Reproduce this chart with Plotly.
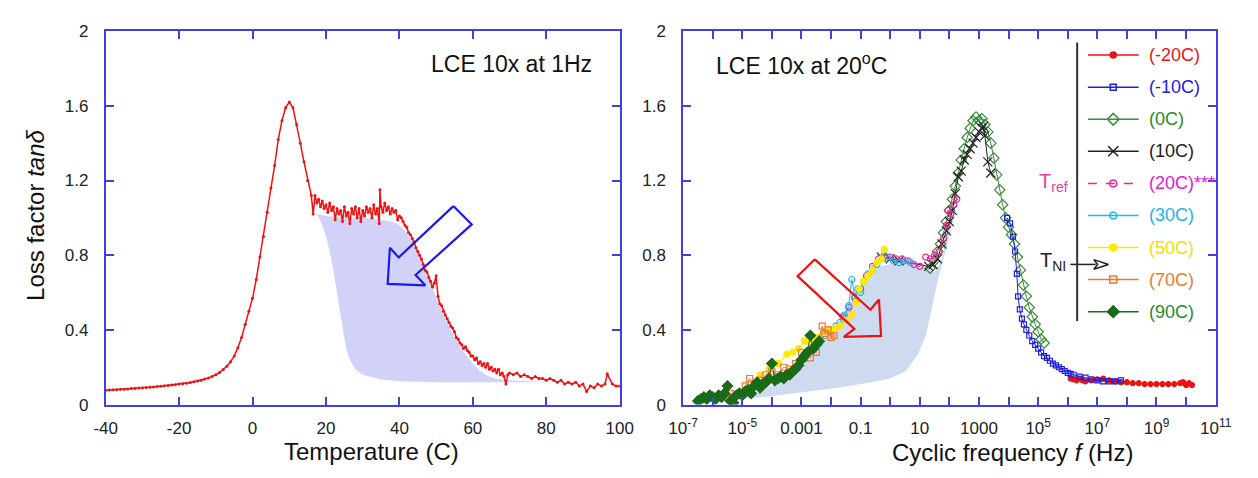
import plotly.graph_objects as go

W, H = 1258, 478

# ---------------- Left panel data: loss factor vs temperature (1 Hz) ----------------
temp_C = [-40, -39, -38, -37, -36, -35, -34, -33, -32, -31, -30, -29, -28, -27, -26, -25, -24, -23, -22, -21,
          -20, -19, -18, -17, -16, -15, -14, -13, -12, -11, -10, -9, -8, -7, -6, -5, -4, -3, -2, -1,
          0, 1, 2, 3, 4, 5, 6, 7, 8, 9, 10, 11, 12, 13, 14, 15, 16, 16.5,
          17, 17.5, 18, 18.5, 19, 19.5, 20, 20.5, 21, 21.5, 22, 22.5, 23, 23.5, 24, 24.5, 25, 25.5, 26, 26.5,
          27, 27.5, 28, 28.5, 29, 29.5, 30, 30.5, 31, 31.5, 32, 32.5, 33, 33.5, 34, 34.5, 34.7, 35, 35.5, 36, 36.5,
          37, 37.5, 38, 38.5, 39, 39.5, 40, 40.5, 41, 41.5, 42, 42.5, 43, 43.5, 44, 44.5, 45, 45.5, 46, 46.5,
          47, 47.5, 48, 48.5, 49, 49.5, 50, 50.5, 51, 51.5, 52, 52.5, 53, 53.5, 54, 54.5, 55, 55.5, 56, 56.5,
          57, 57.5, 58, 58.5, 59, 59.5, 60, 60.5, 61, 61.5, 62, 62.5, 63, 63.5, 64, 64.5, 65, 65.5, 66, 66.5,
          67, 67.5, 68, 68.5, 69, 69.5, 70, 71, 72, 73, 74, 75, 76, 77, 78, 79,
          80, 81, 82, 83, 84, 85, 86, 87, 88, 89, 90, 91, 92, 93, 94, 95, 96, 96.6, 98, 99, 100]
tan_delta_T = [0.077, 0.078, 0.080, 0.079, 0.082, 0.083, 0.084, 0.086, 0.087, 0.089, 0.090, 0.092, 0.093, 0.095, 0.097, 0.099, 0.101, 0.103, 0.105, 0.107,
               0.110, 0.112, 0.115, 0.118, 0.122, 0.126, 0.131, 0.137, 0.143, 0.150, 0.160, 0.172, 0.188, 0.205, 0.230, 0.260, 0.305, 0.360, 0.430, 0.500,
               0.570, 0.670, 0.790, 0.900, 1.030, 1.160, 1.280, 1.420, 1.520, 1.590, 1.620, 1.590, 1.500, 1.400, 1.300, 1.200, 1.120, 1.020,
               1.12, 1.08, 1.10, 1.06, 1.09, 1.05, 1.07, 1.03, 1.08, 1.04, 1.06, 0.99, 1.05, 1.02, 1.04, 0.98, 1.06, 1.01, 1.03, 0.97,
               1.05, 1.02, 1.06, 1.00, 1.05, 0.98, 1.04, 1.01, 1.06, 1.03, 1.05, 1.00, 1.07, 1.02, 1.05, 0.97, 1.15, 1.06, 1.03, 1.08, 1.04,
               1.06, 1.02, 1.05, 1.03, 1.04, 0.99, 1.01, 1.00, 0.98, 0.96, 0.95, 0.92, 0.91, 0.89, 0.87, 0.84, 0.82, 0.80, 0.78, 0.75,
               0.72, 0.71, 0.68, 0.66, 0.63, 0.65, 0.69, 0.58, 0.54, 0.53, 0.50, 0.48, 0.46, 0.44, 0.42, 0.41, 0.39, 0.36, 0.35, 0.33,
               0.32, 0.30, 0.31, 0.29, 0.28, 0.26, 0.26, 0.24, 0.25, 0.22, 0.23, 0.21, 0.22, 0.20, 0.22, 0.19, 0.20, 0.18, 0.19, 0.17,
               0.19, 0.16, 0.17, 0.15, 0.11, 0.16, 0.17, 0.16, 0.17, 0.15, 0.16, 0.15, 0.14, 0.15, 0.14, 0.14,
               0.130, 0.140, 0.130, 0.120, 0.130, 0.110, 0.120, 0.110, 0.120, 0.100, 0.110, 0.070, 0.100, 0.090, 0.110, 0.100, 0.110, 0.165, 0.110, 0.100, 0.100]

# shaded region (left), upper boundary then lower boundary back
shadeL_T = [17.5, 20, 25, 30, 35, 38, 40, 42, 44, 46, 48, 50, 52, 54, 56, 58, 60, 62, 64, 66, 70, 75, 80,
            70, 60, 50, 40, 35, 30, 28, 26.5, 25.5, 24.8, 24, 23, 22, 21, 20, 19, 17.5]
shadeL_y = [1.02, 1.01, 1.00, 1.00, 0.99, 0.98, 0.96, 0.92, 0.85, 0.77, 0.67, 0.57, 0.48, 0.40, 0.33, 0.27, 0.22, 0.18, 0.155, 0.14, 0.13, 0.125, 0.12,
            0.12, 0.12, 0.12, 0.125, 0.135, 0.16, 0.19, 0.24, 0.30, 0.38, 0.48, 0.60, 0.72, 0.82, 0.90, 0.96, 1.02]

# hollow arrow (left)
arrowL_T = [54.7, 59.7, 44.4, 47.05, 36.8, 37.4, 39.8, 54.7]
arrowL_y = [1.063, 0.965, 0.694, 0.639, 0.646, 0.84, 0.788, 1.063]

# ---------------- Right panel data: master curve vs log10 frequency ----------------
lf_m20 = [6.1, 6.2, 6.3, 6.4, 6.5, 6.6, 6.8, 7.0, 7.2, 7.4, 7.6, 7.8, 8.0, 8.2, 8.4, 8.6, 8.8, 9.0, 9.2, 9.4, 9.6, 9.8, 9.9, 10.0, 10.1, 10.2]
y_m20 = [0.14, 0.135, 0.13, 0.14, 0.13, 0.125, 0.13, 0.135, 0.14, 0.13, 0.125, 0.12, 0.12, 0.115, 0.115, 0.11, 0.11, 0.11, 0.11, 0.11, 0.11, 0.115, 0.12, 0.105, 0.115, 0.105]

lf_m10 = [3.95, 4.05, 4.15, 4.22, 4.28, 4.32, 4.38, 4.45, 4.52, 4.6, 4.7, 4.8, 4.9, 5.0, 5.1, 5.2, 5.3, 5.4, 5.5, 5.6, 5.7, 5.8, 5.9, 6.0, 6.1, 6.2, 6.4, 6.6, 6.8, 7.0, 7.2, 7.4, 7.6, 7.8]
y_m10 = [1.00, 0.97, 0.90, 0.82, 0.70, 0.58, 0.51, 0.46, 0.43, 0.40, 0.37, 0.34, 0.32, 0.30, 0.28, 0.26, 0.25, 0.235, 0.22, 0.21, 0.20, 0.19, 0.18, 0.17, 0.165, 0.16, 0.15, 0.145, 0.135, 0.13, 0.125, 0.125, 0.125, 0.13]

lf_0 = [1.35, 1.5, 1.6, 1.7, 1.8, 1.9, 2.0, 2.1, 2.2, 2.3, 2.4, 2.5, 2.6, 2.7, 2.8, 2.9, 3.0, 3.1, 3.2, 3.3, 3.4, 3.5, 3.6, 3.7, 3.8, 3.9,
        4.0, 4.1, 4.2, 4.3, 4.4, 4.5, 4.6, 4.7, 4.8, 4.9, 5.0, 5.1, 5.2]
y_0 = [0.73, 0.77, 0.82, 0.86, 0.92, 0.98, 1.04, 1.10, 1.17, 1.24, 1.31, 1.37, 1.43, 1.48, 1.52, 1.54, 1.52, 1.53, 1.50, 1.46, 1.40, 1.32, 1.23, 1.15, 1.07, 1.00,
       0.95, 0.91, 0.86, 0.79, 0.72, 0.64, 0.58, 0.52, 0.47, 0.43, 0.39, 0.35, 0.33]

lf_10 = [-0.3, 0.0, 0.3, 1.3, 1.45, 1.6, 1.75, 1.9, 2.0, 2.1, 2.2, 2.3, 2.4, 2.5, 2.6, 2.7, 2.8, 2.9, 3.0, 3.1, 3.15, 3.2, 3.3, 3.4]
y_10 = [0.79, 0.78, 0.77, 0.74, 0.75, 0.78, 0.86, 0.93, 0.98, 1.04, 1.13, 1.22, 1.25, 1.31, 1.34, 1.37, 1.40, 1.43, 1.46, 1.48, 1.49, 1.44, 1.30, 1.24]

lf_20 = [-1.6, -1.4, -1.2, -1.0, -0.8, -0.6, -0.4, -0.2, 0.0, 0.2, 0.4, 0.6, 0.8, 1.0, 1.2, 1.35, 1.5, 1.65, 1.8, 1.9, 1.95, 2.05, 2.15, 2.25]
y_20 = [0.47, 0.52, 0.57, 0.62, 0.69, 0.74, 0.78, 0.80, 0.79, 0.78, 0.78, 0.77, 0.75, 0.74, 0.79, 0.78, 0.80, 0.82, 0.89, 0.96, 1.04, 1.02, 1.07, 1.10]

lf_30 = [-2.4, -2.2, -2.0, -1.85, -1.7, -1.55, -1.4, -1.3, -1.2, -1.1, -1.0, -0.9, -0.75, -0.6, -0.45, -0.3, -0.1, 0.1, 0.3, 0.5, 0.7]
y_30 = [0.33, 0.37, 0.40, 0.42, 0.44, 0.48, 0.53, 0.67, 0.58, 0.62, 0.60, 0.66, 0.70, 0.72, 0.75, 0.78, 0.79, 0.77, 0.76, 0.77, 0.76]

lf_50 = [-4.4, -4.1, -3.8, -3.5, -3.3, -3.1, -2.9, -2.7, -2.5, -2.3, -2.1, -1.9, -1.7, -1.5, -1.3, -1.15, -1.05, -0.9, -0.75, -0.6, -0.45, -0.3, -0.2]
y_50 = [0.16, 0.19, 0.22, 0.27, 0.28, 0.30, 0.34, 0.33, 0.36, 0.38, 0.40, 0.41, 0.42, 0.45, 0.48, 0.55, 0.62, 0.66, 0.69, 0.72, 0.76, 0.78, 0.83]

lf_70 = [-5.5, -5.4, -5.2, -4.9, -4.75, -4.6, -4.4, -4.2, -4.0, -3.8, -3.6, -3.4, -3.2, -3.0, -2.9, -2.7, -2.6, -2.5, -2.3, -2.2, -2.1, -2.0, -1.9]
y_70 = [0.04, 0.06, 0.05, 0.10, 0.14, 0.11, 0.13, 0.16, 0.18, 0.16, 0.20, 0.19, 0.22, 0.28, 0.25, 0.25, 0.30, 0.28, 0.42, 0.38, 0.40, 0.36, 0.37]

lf_90 = [-6.5, -6.4, -6.3, -6.2, -6.1, -6.0, -5.9, -5.8, -5.7, -5.6, -5.5, -5.4, -5.3, -5.2, -5.1, -5.0, -4.9, -4.8, -4.7, -4.6, -4.5,
         -4.4, -4.3, -4.2, -4.1, -4.0, -3.9, -3.8, -3.7, -3.6, -3.5, -3.4, -3.3, -3.2, -3.1, -3.0, -2.9, -2.8, -2.7, -2.6, -2.5, -2.4]
y_90 = [0.02, 0.03, 0.04, 0.03, 0.05, 0.04, 0.03, 0.05, 0.04, 0.06, 0.10, 0.02, 0.01, 0.05, 0.06, 0.05, 0.07, 0.08, 0.06, 0.10, 0.12,
        0.09, 0.11, 0.12, 0.14, 0.22, 0.13, 0.14, 0.15, 0.14, 0.16, 0.16, 0.18, 0.19, 0.21, 0.24, 0.26, 0.28, 0.37, 0.30, 0.32, 0.34]

# shaded region (right): top boundary left->right, then lower/right edge back
shadeR_lf = [-5.4, -4.7, -4.0, -3.5, -2.95, -2.4, -2.0, -1.6, -1.2, -0.8, -0.4, 0.0, 0.3, 0.8, 1.2, 1.5, 1.75, 2.0, 2.3,
             2.14, 1.87, 1.6, 1.4, 1.2, 0.94, 0.53, 0.0, -0.54, -1.75, -3.09, -4.43, -5.4]
shadeR_y = [0.03, 0.055, 0.10, 0.15, 0.22, 0.30, 0.39, 0.47, 0.57, 0.67, 0.74, 0.75, 0.76, 0.76, 0.73, 0.71, 0.78, 0.99, 1.16,
            1.0, 0.82, 0.66, 0.51, 0.37, 0.27, 0.18, 0.14, 0.123, 0.09, 0.063, 0.038, 0.03]

# hollow arrow (right)
arrowR_lf = [-2.55, -3.13, -1.21, -1.57, -0.31, -0.38, -0.67, -2.55]
arrowR_y = [0.778, 0.688, 0.405, 0.363, 0.368, 0.563, 0.508, 0.778]

# tick labels
left_xticks = [-40, -20, 0, 20, 40, 60, 80, 100]
left_xlabels = ["-40", "-20", "0", "20", "40", "60", "80", "100"]
left_yticks = [0, 0.4, 0.8, 1.2, 1.6, 2]
left_ylabels = ["0", "0.4", "0.8", "1.2", "1.6", "2"]
right_xexp = list(range(-7, 12))
right_xlabels = {-7: "10<sup>-7</sup>", -5: "10<sup>-5</sup>", -3: "0.001", -1: "0.1", 1: "10", 3: "1000",
                 5: "10<sup>5</sup>", 7: "10<sup>7</sup>", 9: "10<sup>9</sup>", 11: "10<sup>11</sup>"}

legend_names = ["(-20C)", "(-10C)", "(0C)", "(10C)", "(20C)***", "(30C)", "(50C)", "(70C)", "(90C)"]

# ---------------- style ----------------
FONT = "Liberation Sans, Arial, sans-serif"
AX = "#4040e0"
series_style = {
    "(-20C)": dict(color="#ee1111", symbol="circle", size=5, dash="solid", lw=1.2),
    "(-10C)": dict(color="#2020dd", symbol="square-open", size=5, dash="solid", lw=1.0),
    "(0C)": dict(color="#3a8a3a", symbol="diamond-open", size=8, dash="solid", lw=1.0),
    "(10C)": dict(color="#222222", symbol="x-thin-open", size=9, dash="solid", lw=1.0),
    "(20C)***": dict(color="#ee2299", symbol="circle-open", size=6, dash="dash", lw=1.0),
    "(30C)": dict(color="#22b4ee", symbol="circle-open", size=6, dash="solid", lw=1.0),
    "(50C)": dict(color="#ffe800", symbol="circle", size=6, dash="solid", lw=1.0),
    "(70C)": dict(color="#f07830", symbol="square-open", size=6, dash="solid", lw=1.0),
    "(90C)": dict(color="#1a6a1a", symbol="diamond", size=8, dash="solid", lw=1.0),
}
text_colors = {"(-20C)": "#ee1111", "(-10C)": "#2020dd", "(0C)": "#2a8a2a", "(10C)": "#222222",
               "(20C)***": "#e020d0", "(30C)": "#22b4ee", "(50C)": "#f0e000", "(70C)": "#f07830", "(90C)": "#2a8a2a"}

series_data = {
    "(-20C)": (lf_m20, y_m20), "(-10C)": (lf_m10, y_m10), "(0C)": (lf_0, y_0), "(10C)": (lf_10, y_10),
    "(20C)***": (lf_20, y_20), "(30C)": (lf_30, y_30), "(50C)": (lf_50, y_50), "(70C)": (lf_70, y_70), "(90C)": (lf_90, y_90),
}

fig = go.Figure()

# left panel
fig.add_trace(go.Scatter(x=shadeL_T, y=shadeL_y, fill="toself", fillcolor="rgb(210,210,248)",
                         line=dict(width=0), mode="lines", xaxis="x", yaxis="y", hoverinfo="skip"))
fig.add_trace(go.Scatter(x=temp_C, y=tan_delta_T, mode="lines+markers",
                         line=dict(color="#ee1111", width=1.5), marker=dict(color="#ee1111", size=3),
                         xaxis="x", yaxis="y"))
fig.add_trace(go.Scatter(x=arrowL_T, y=arrowL_y, mode="lines", line=dict(color="#1a1aee", width=2.2),
                         xaxis="x", yaxis="y"))

# right panel
fig.add_trace(go.Scatter(x=[10 ** v for v in shadeR_lf], y=shadeR_y, fill="toself", fillcolor="rgb(205,218,240)",
                         line=dict(width=0), mode="lines", xaxis="x2", yaxis="y2", hoverinfo="skip"))
draw_order = ["(-20C)", "(0C)", "(-10C)", "(10C)", "(20C)***", "(30C)", "(50C)", "(70C)", "(90C)"]
for name in draw_order:
    lf, yy = series_data[name]
    st = series_style[name]
    fig.add_trace(go.Scatter(x=[10 ** v for v in lf], y=yy, mode="lines+markers", name=name,
                             line=dict(color=st["color"], width=st["lw"], dash=st["dash"]),
                             marker=dict(symbol=st["symbol"], size=st["size"], color=st["color"],
                                         line=dict(color=st["color"], width=1.2)),
                             xaxis="x2", yaxis="y2"))
fig.add_trace(go.Scatter(x=[10 ** v for v in arrowR_lf], y=arrowR_y, mode="lines",
                         line=dict(color="#ee1111", width=2.2), xaxis="x2", yaxis="y2"))

# legend drawn in a pixel-coordinate overlay
leg_x0, leg_x1, leg_xm, leg_tx = 1100, 1152, 1126, 1161
leg_y0, leg_dy = 48, 33.4
for i, name in enumerate(legend_names):
    st = series_style[name]
    yy = leg_y0 + i * leg_dy
    fig.add_trace(go.Scatter(x=[leg_x0, leg_x1], y=[yy, yy], mode="lines",
                             line=dict(color=st["color"], width=1.5, dash="dash" if st["dash"] == "dash" else "solid"),
                             xaxis="x3", yaxis="y3"))
    fig.add_trace(go.Scatter(x=[leg_xm], y=[yy], mode="markers",
                             marker=dict(symbol=st["symbol"], size=st["size"] + 1, color=st["color"],
                                         line=dict(color=st["color"], width=1.5)),
                             xaxis="x3", yaxis="y3"))
    fig.add_annotation(x=leg_tx, y=yy, xref="x3", yref="y3", text=name, showarrow=False,
                       xanchor="left", yanchor="middle", font=dict(family=FONT, size=18, color=text_colors[name]))

# T_NI arrow
fig.add_trace(go.Scatter(x=[1082, 1108], y=[266, 266], mode="lines", line=dict(color="#222222", width=1.5),
                         xaxis="x3", yaxis="y3"))
fig.add_trace(go.Scatter(x=[1106, 1121, 1106, 1110, 1106], y=[261, 266, 271, 266, 261], mode="lines",
                         line=dict(color="#222222", width=1.5), xaxis="x3", yaxis="y3"))

fig.add_shape(type="line", xref="paper", yref="paper", x0=1089 / W, x1=1089 / W, y0=1 - 35 / H, y1=1 - 325 / H,
              line=dict(color="#333333", width=2))

fig.add_annotation(x=1048, y=181, xref="x3", yref="y3", text="T<sub>ref</sub>", showarrow=False,
                   xanchor="left", yanchor="middle", font=dict(family=FONT, size=20, color="#e8409a"))
fig.add_annotation(x=1049, y=263, xref="x3", yref="y3", text="T<sub>NI</sub>", showarrow=False,
                   xanchor="left", yanchor="middle", font=dict(family=FONT, size=20, color="#222222"))

# text annotations
fig.add_annotation(x=594 / W, y=1 - 57 / H, xref="paper", yref="paper", text="LCE 10x at 1Hz", showarrow=False,
                   xanchor="right", yanchor="middle", font=dict(family=FONT, size=23, color="#111111"))
fig.add_annotation(x=717 / W, y=1 - 57 / H, xref="paper", yref="paper", text="LCE 10x at 20<sup>o</sup>C", showarrow=False,
                   xanchor="left", yanchor="middle", font=dict(family=FONT, size=23, color="#111111"))
fig.add_annotation(x=365 / W, y=1 - 461 / H, xref="paper", yref="paper", text="Temperature (C)", showarrow=False,
                   xanchor="center", yanchor="middle", font=dict(family=FONT, size=24, color="#111111"))
fig.add_annotation(x=1023 / W, y=1 - 462 / H, xref="paper", yref="paper", text="Cyclic frequency <i>f</i> (Hz)", showarrow=False,
                   xanchor="center", yanchor="middle", font=dict(family=FONT, size=24, color="#111111"))
fig.add_annotation(x=21 / W, y=1 - 215 / H, xref="paper", yref="paper", text="Loss factor <i>tanδ</i>", showarrow=False,
                   textangle=-90, xanchor="center", yanchor="middle", font=dict(family=FONT, size=24, color="#111111"))

ydom = [1 - 412 / H, 1 - 23 / H]
axis_common = dict(showline=True, linecolor=AX, linewidth=1.6, ticks="inside", tickcolor=AX, tickwidth=1.6,
                   ticklen=8, mirror="ticks", showgrid=False, zeroline=False,
                   tickfont=dict(family=FONT, size=17, color="#222222"))

fig.update_layout(
    width=W, height=H, margin=dict(l=0, r=0, t=0, b=0),
    paper_bgcolor="white", plot_bgcolor="rgba(0,0,0,0)", showlegend=False,
    xaxis=dict(domain=[93 / W, 620 / W], range=[-40, 100], tickvals=left_xticks, ticktext=left_xlabels, anchor="y",
               ticklabelstandoff=7, **axis_common),
    yaxis=dict(domain=ydom, range=[0, 2], tickvals=left_yticks, ticktext=left_ylabels, anchor="x",
               ticklabelstandoff=12, **axis_common),
    xaxis2=dict(domain=[685 / W, 1231 / W], type="log", range=[-7, 11],
                tickvals=[10.0 ** e for e in right_xexp], ticktext=[right_xlabels.get(e, "") for e in right_xexp],
                anchor="y2", ticklabelstandoff=7, **axis_common),
    yaxis2=dict(domain=ydom, range=[0, 2], tickvals=left_yticks, ticktext=left_ylabels, anchor="x2",
                ticklabelstandoff=12, **axis_common),
    xaxis3=dict(domain=[0, 1], range=[0, W], visible=False, anchor="y3"),
    yaxis3=dict(domain=[0, 1], range=[H, 0], visible=False, anchor="x3"),
)

fig.write_html("out.html", config={"displayModeBar": False},
               post_script="document.body.style.margin='0px';")
